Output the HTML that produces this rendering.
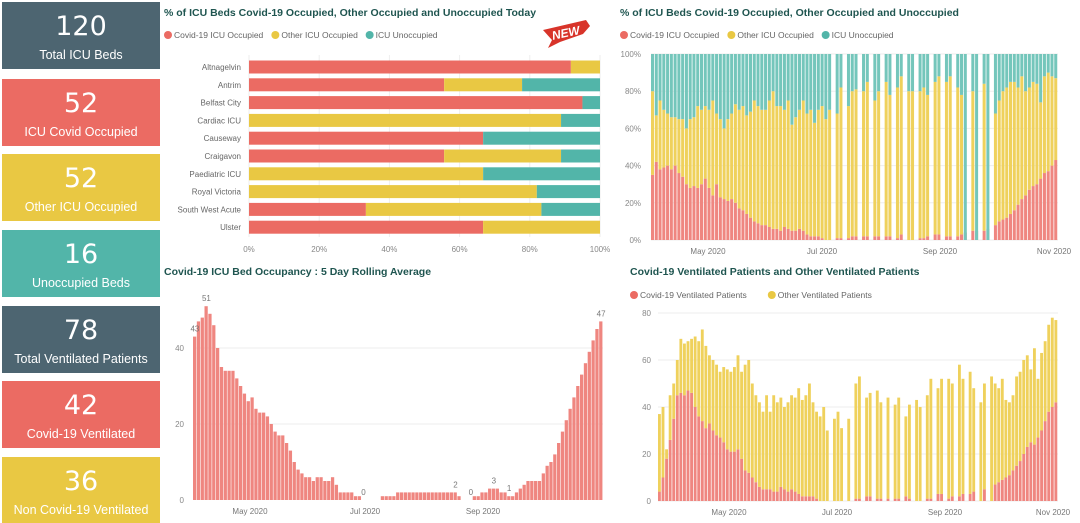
<!DOCTYPE html>
<html><head><meta charset="utf-8"><style>
body{margin:0;width:1080px;height:523px;background:#fff;overflow:hidden;font-family:"Liberation Sans",sans-serif;position:relative}
.card{position:absolute;left:2px;width:158px;height:67px;color:#fff;text-align:center}
.card .v{font-size:27px;line-height:27px;margin-top:11px;font-family:"DejaVu Sans","Liberation Sans",sans-serif}
.card .l{font-size:12.5px;margin-top:8px;white-space:nowrap}
svg{position:absolute;left:0;top:0}
</style></head><body>
<div class="card" style="top:2px;background:#4d6571"><div class="v">120</div><div class="l">Total ICU Beds</div></div>
<div class="card" style="top:79px;background:#eb6b63"><div class="v">52</div><div class="l">ICU Covid Occupied</div></div>
<div class="card" style="top:154px;background:#e9c843"><div class="v">52</div><div class="l">Other ICU Occupied</div></div>
<div class="card" style="top:230px;background:#52b5a9"><div class="v">16</div><div class="l">Unoccupied Beds</div></div>
<div class="card" style="top:306px;background:#4d6571"><div class="v">78</div><div class="l">Total Ventilated Patients</div></div>
<div class="card" style="top:381px;background:#eb6b63"><div class="v">42</div><div class="l">Covid-19 Ventilated</div></div>
<div class="card" style="top:457px;background:#e9c843;height:66px"><div class="v">36</div><div class="l">Non Covid-19 Ventilated</div></div>
<svg id="s" width="1080" height="523"></svg>
<script>
// Chart 1 data
const hospitals=["Altnagelvin","Antrim","Belfast City","Cardiac ICU","Causeway","Craigavon","Paediatric ICU","Royal Victoria","South West Acute","Ulster"];
const hospCovid=[91.7,55.6,95,0,66.7,55.6,0,0,33.3,66.7];
const hospOther=[8.3,22.2,0,88.9,0,33.3,66.7,82,50,33.3];
const pctTicks=[0,20,40,60,80,100];
// Chart 2 data (2-day bins from Apr 1)
const pctCovid=[35,42,38,39,40,38,40,36,34,30,28,29,28,30,33,
28,24,30,23,22,21,22,20,17,16,14,12,10,9,8,8,
7,6,6,5,7,6,5,5,6,5,3,2,2,2,1,
0,0,null,1,1,null,1,2,2,null,2,2,null,2,2,
null,2,2,null,1,3,null,0,0,null,1,1,2,null,3,
3,null,2,2,null,2,3,4,null,5,5,null,5,6,null,
8,10,11,12,14,16,19,22,24,27,29,30,33,36,37,40,43];
const pctOccupied=[80,67,75,70,68,66,66,65,65,60,65,66,72,70,72,
70,75,68,65,60,65,68,73,70,72,67,69,75,72,70,70,
75,80,72,72,70,75,62,66,70,75,68,70,63,70,72,
65,70,null,68,82,null,72,80,81,null,80,85,null,75,80,
null,85,78,null,82,88,null,80,80,null,80,82,78,null,85,
88,null,85,88,null,82,78,null,85,80,null,80,84,null,86,
68,75,80,82,85,85,82,88,80,82,85,84,74,88,90,88,87];
const pctYTicks=[0,20,40,60,80,100];
const monthTicks=["May 2020","Jul 2020","Sep 2020","Nov 2020"];
// Chart 3 data
const rolling=[43,47,48,51,49,46,40,35,34,34,34,32,30,28,26,
27,24,23,23,22,20,18,17,17,15,13,10,8,7,6,
6,5,6,6,5,5,6,4,2,2,2,2,1,1,0,
0,0,0,0,1,1,1,1,2,2,2,2,2,2,2,
2,2,2,2,2,2,2,2,2,1,0,0,0,1,1,2,
2,3,3,3,2,2,1,1,2,3,4,5,5,5,5,
7,9,10,12,15,18,21,24,27,30,33,36,39,42,45,47];
const rollLabelIdx=[0,3,44,68,72,78,82,106];
const rollLabelText=["43","51","0","2","0","3","1","47"];
const rollYTicks=[0,20,40];
// Chart 4 data (2-day bins from Mar 23)
const ventCovid=[4,10,18,26,35,
45,46,45,47,46,40,36,34,31,33,30,28,27,25,22,
21,21,22,18,13,12,10,8,6,5,5,5,4,4,6,5,
4,5,4,3,2,2,2,2,1,0,0,0,null,0,0,
0,null,0,null,1,1,null,2,2,null,1,1,null,1,null,
1,1,null,2,1,null,0,0,null,1,1,null,3,3,null,1,
2,null,2,3,null,3,4,5,null,5,6,null,7,8,9,
10,11,13,15,17,20,23,25,24,27,30,34,38,40,42];
const ventTotal=[37,40,22,45,50,
60,69,67,68,69,70,68,73,66,62,60,58,55,57,56,
55,57,62,55,58,60,50,45,42,38,45,38,45,42,44,40,
42,45,44,48,43,45,50,42,38,36,40,30,null,35,38,
31,null,35,null,50,53,null,44,46,null,47,42,null,44,null,
41,44,null,36,41,null,43,40,null,45,52,null,48,52,null,52,
50,null,58,52,null,55,48,null,42,50,null,53,50,48,52,
43,42,45,53,55,60,62,56,65,52,63,68,75,78,77];
const ventYTicks=[0,20,40,60,80];

const NS="http://www.w3.org/2000/svg",S=document.getElementById('s');
const RED="#eb6b63",YEL="#e9c843",TEAL="#52b5a9",REDL="#ef8680",YELL="#efd15c",TEALL="#74c6bb";
function mk(t,a,p){const e=document.createElementNS(NS,t);for(const k in a)e.setAttribute(k,a[k]);(p||S).appendChild(e);return e;}
function txt(x,y,s,size,fill,anchor,weight){const e=mk('text',{x:x,y:y,'font-size':size,fill:fill,'text-anchor':anchor||'start','font-weight':weight||'normal','font-family':'"Liberation Sans",sans-serif'});e.textContent=s;return e;}
function legend(x,y,items){let cx=x;items.forEach(it=>{const c=mk('circle',{cx:cx+4,cy:y-3,r:4,fill:it[1]});


const t=txt(cx+10,y,it[0],8.5,'#666');


cx+=10+it[0].length*4.35+6;});}

// Titles
[["% of ICU Beds Covid-19 Occupied, Other Occupied and Unoccupied Today",164,16,'chart1-title'],
 ["% of ICU Beds Covid-19 Occupied, Other Occupied and Unoccupied",620,16,'chart2-title'],
 ["Covid-19 ICU Bed Occupancy : 5 Day Rolling Average",164,275,'chart3-title'],
 ["Covid-19 Ventilated Patients and Other Ventilated Patients",630,275,'chart4-title']].forEach(t=>{
 const e=txt(t[1],t[2],t[0],10.5,'#1f5550','start','bold');
 
 });
legend(164,38,[["Covid-19 ICU Occupied",RED],["Other ICU Occupied",YEL],["ICU Unoccupied",TEAL]]);
legend(620,38,[["Covid-19 ICU Occupied",RED],["Other ICU Occupied",YEL],["ICU Unoccupied",TEAL]]);
legend(630,298,[["Covid-19 Ventilated Patients",RED],["Other Ventilated Patients",YEL]]);

// NEW stamp
const st=mk('g',{});


mk('path',{d:'M543 30 L586 20 L590 26 L583 34 L560 42 L548 48 L552 40 Z',fill:'#d8342a'},st);
const nt=txt(566,37,'NEW',12,'#fff','middle','bold');st.appendChild(nt);nt.setAttribute('font-style','italic');nt.setAttribute('transform','rotate(-12 566 34)');

// Chart 1
(function(){const x0=249,x1=600,X=v=>x0+(x1-x0)*v/100;const y0=67,step=17.8,bh=13;
pctTicks.forEach(t=>{mk('line',{x1:X(t),x2:X(t),y1:55,y2:237,stroke:'#eee'});const e=txt(X(t),252,t+'%',8,'#888','middle');

});
hospitals.forEach((h,i)=>{const cy=y0+i*step,y=cy-bh/2;const c=hospCovid[i],o=hospOther[i];
const l=txt(241,cy+3,h,8,'#666','end');


const a=mk('rect',{x:X(0),y:y,width:X(c)-X(0),height:bh,fill:RED});


const b=mk('rect',{x:X(c),y:y,width:X(c+o)-X(c),height:bh,fill:YEL});


const d=mk('rect',{x:X(c+o),y:y,width:X(100)-X(c+o),height:bh,fill:TEAL});

});})();

// Chart 2
(function(){const x0=651,x1=1058,n=pctCovid.length,bw=(x1-x0)/n,yb=240,yt=54,Y=v=>yb-(yb-yt)*v/100;
pctYTicks.forEach(t=>{mk('line',{x1:x0,x2:x1,y1:Y(t),y2:Y(t),stroke:'#eee'});const e=txt(641,Y(t)+3,t+'%',8,'#888','end');

});
for(let i=0;i<n;i++){if(pctCovid[i]==null)continue;const x=x0+i*bw,w=bw*0.8,c=pctCovid[i],o=pctOccupied[i];
const a=mk('rect',{x:x,y:Y(c),width:w,height:Y(0)-Y(c),fill:REDL});


const b=mk('rect',{x:x,y:Y(o),width:w,height:Y(c)-Y(o),fill:YELL});


const d=mk('rect',{x:x,y:Y(100),width:w,height:Y(o)-Y(100),fill:TEALL});

}
const mx=[708,822,940,1054];monthTicks.forEach((m,i)=>{const e=txt(mx[i],254,m,8,'#777','middle');

});})();

// Chart 3
(function(){const x0=193,x1=603,n=rolling.length,bw=(x1-x0)/n,yb=500,Y=v=>yb-3.8*v;
rollYTicks.forEach(t=>{if(t>0)mk('line',{x1:x0,x2:x1,y1:Y(t),y2:Y(t),stroke:'#eee'});const e=txt(184,Y(t)+3,String(t),8,'#888','end');

});
for(let i=0;i<n;i++){const v=rolling[i],x=x0+i*bw;
const r=mk('rect',{x:x,y:Y(v),width:bw*0.85,height:Math.max(0,Y(0)-Y(v)),fill:REDL});

}
rollLabelIdx.forEach((idx,k)=>{const e=txt(x0+idx*bw+bw/2,Y(rolling[idx])-5,rollLabelText[k],8,'#777','middle');

});
const mx=[250,365,483];monthTicks.slice(0,3).forEach((m,i)=>{const e=txt(mx[i],514,m,8,'#777','middle');

});})();

// Chart 4
(function(){const x0=658,x1=1058,n=ventTotal.length,bw=(x1-x0)/n,yb=501,Y=v=>yb-2.35*v;
ventYTicks.forEach(t=>{mk('line',{x1:x0,x2:x1,y1:Y(t),y2:Y(t),stroke:'#eee'});const e=txt(651,Y(t)+3,String(t),8,'#888','end');

});
for(let i=0;i<n;i++){if(ventTotal[i]==null)continue;const x=x0+i*bw,w=bw*0.8,c=ventCovid[i],t=ventTotal[i];
const a=mk('rect',{x:x,y:Y(c),width:w,height:Y(0)-Y(c),fill:REDL});


const b=mk('rect',{x:x,y:Y(t),width:w,height:Y(c)-Y(t),fill:YELL});

}
const mx=[729,837,945,1053];monthTicks.forEach((m,i)=>{const e=txt(mx[i],515,m,8,'#777','middle');

});})();
</script>
</body></html>
